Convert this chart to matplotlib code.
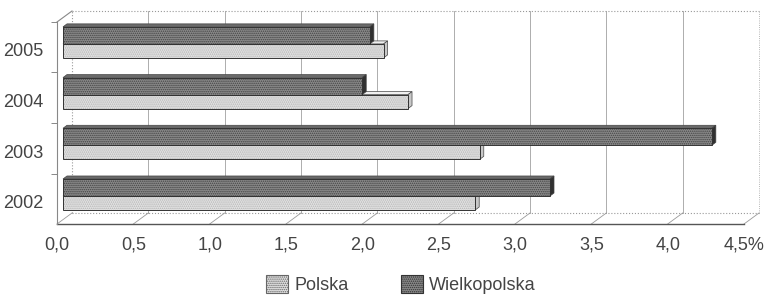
import matplotlib
matplotlib.use('Agg')
import matplotlib.pyplot as plt
import matplotlib.transforms as mtransforms
from matplotlib.patches import Patch

years = ['2002', '2003', '2004', '2005']
polska = [2.70, 2.73, 2.26, 2.10]
wielkopolska = [3.19, 4.25, 1.96, 2.01]
xticks = [0.0, 0.5, 1.0, 1.5, 2.0, 2.5, 3.0, 3.5, 4.0, 4.5]
xlabels = ['0,0', '0,5', '1,0', '1,5', '2,0', '2,5', '3,0', '3,5', '4,0', '4,5%']

plt.rcParams['font.family'] = ['Liberation Sans', 'DejaVu Sans']
plt.rcParams['hatch.linewidth'] = 0.7
txt = '#444444'

fig = plt.figure(figsize=(7.72, 2.98), dpi=100)
ax = fig.add_axes([57 / 772, 1 - 224 / 298, 687 / 772, 202 / 298])
ymin, ymax = -0.434, 3.55
ax.set_xlim(0, 4.5)
ax.set_ylim(ymin, ymax)
for s in ax.spines.values():
    s.set_visible(False)

# depth of the pseudo 3d box, in data units
DX, DY = 15 / 152.7, 11 / 50.7
dx, dy = 4 / 152.7, 3 / 50.7

# back wall grid
for v in xticks[1:]:
    ax.plot([v + DX, v + DX], [ymin + DY, ymax + DY], color='#a0a0a0', lw=0.6,
            ls=':' if v == 4.5 else '-', clip_on=False, zorder=1)
ax.plot([DX, DX], [ymin + DY, ymax + DY], color='#999999', lw=0.8, ls=':', clip_on=False, zorder=1)
ax.plot([DX, 4.5 + DX], [ymax + DY, ymax + DY], color='#999999', lw=0.8, ls=':', clip_on=False, zorder=1)
ax.plot([DX, 4.5 + DX], [ymin + DY, ymin + DY], color='#999999', lw=0.8, ls=':', clip_on=False, zorder=1)
# floor diagonals
for v in xticks:
    ax.plot([v, v + DX], [ymin, ymin + DY], color='#999999', lw=0.6, clip_on=False, zorder=1)
# front frame
ax.plot([0, 4.5], [ymin, ymin], color='#555555', lw=1.0, clip_on=False, zorder=2)
ax.plot([0, 0], [ymin, ymax], color='#888888', lw=0.8, clip_on=False, zorder=2)
ax.plot([0, DX], [ymax, ymax + DY], color='#888888', lw=0.8, clip_on=False, zorder=2)

# bars sit a few pixels in front of the back wall
bar_tr = ax.transData + mtransforms.ScaledTranslation(0.06, 0, fig.dpi_scale_trans)


def bar3d(y0, h, v, face, hatchc, topc, sidec, z):
    y1 = y0 + h
    ax.fill([0, v, v + dx, dx], [y1, y1, y1 + dy, y1 + dy], color=topc, ec='#444444', lw=0.5,
            transform=bar_tr, zorder=z)
    ax.fill([v, v + dx, v + dx, v], [y0, y0 + dy, y1 + dy, y1], color=sidec, ec='#444444', lw=0.5,
            transform=bar_tr, zorder=z)
    ax.fill([0, v, v, 0], [y0, y0, y1, y1], color=face, lw=0, transform=bar_tr, zorder=z)
    ax.fill([0, v, v, 0], [y0, y0, y1, y1], facecolor='none', edgecolor=hatchc, hatch='........', lw=0,
            transform=bar_tr, zorder=z)
    ax.fill([0, v, v, 0], [y0, y0, y1, y1], facecolor='none', edgecolor='#333333', lw=0.7,
            transform=bar_tr, zorder=z)


for i in range(len(years)):
    bar3d(i - 0.158, 0.276, polska[i], '#e2e2e2', '#b4b4b4', '#f0f0f0', '#c8c8c8', 3 + i * 2)
    bar3d(i + 0.118, 0.336, wielkopolska[i], '#8a8a8a', '#444444', '#6a6a6a', '#303030', 4 + i * 2)

ax.set_xticks(xticks)
ax.set_xticklabels(xlabels)
ax.set_yticks(range(len(years)))
ax.set_yticklabels(years)
ax.set_yticks([0.55, 1.56, 2.56, 3.55], minor=True)
ax.tick_params(axis='x', length=0, pad=9, labelsize=13, labelcolor=txt)
ax.tick_params(axis='y', which='major', length=0, pad=10, labelsize=13, labelcolor=txt)
ax.tick_params(axis='y', which='minor', length=4, width=0.7, color='#888888')

handles = [Patch(facecolor='#e2e2e2', edgecolor='#666666', hatch='........', lw=0.8, label='Polska'),
           Patch(facecolor='#8a8a8a', edgecolor='#333333', hatch='........', lw=0.8, label='Wielkopolska')]
fig.legend(handles=handles, loc='center', bbox_to_anchor=(401 / 772, 0.045), ncol=2, frameon=False,
           fontsize=13, labelcolor=txt, handlelength=1.2, handleheight=1.2, handletextpad=0.35,
           columnspacing=2.9)

fig.savefig('out.png', dpi=100)
